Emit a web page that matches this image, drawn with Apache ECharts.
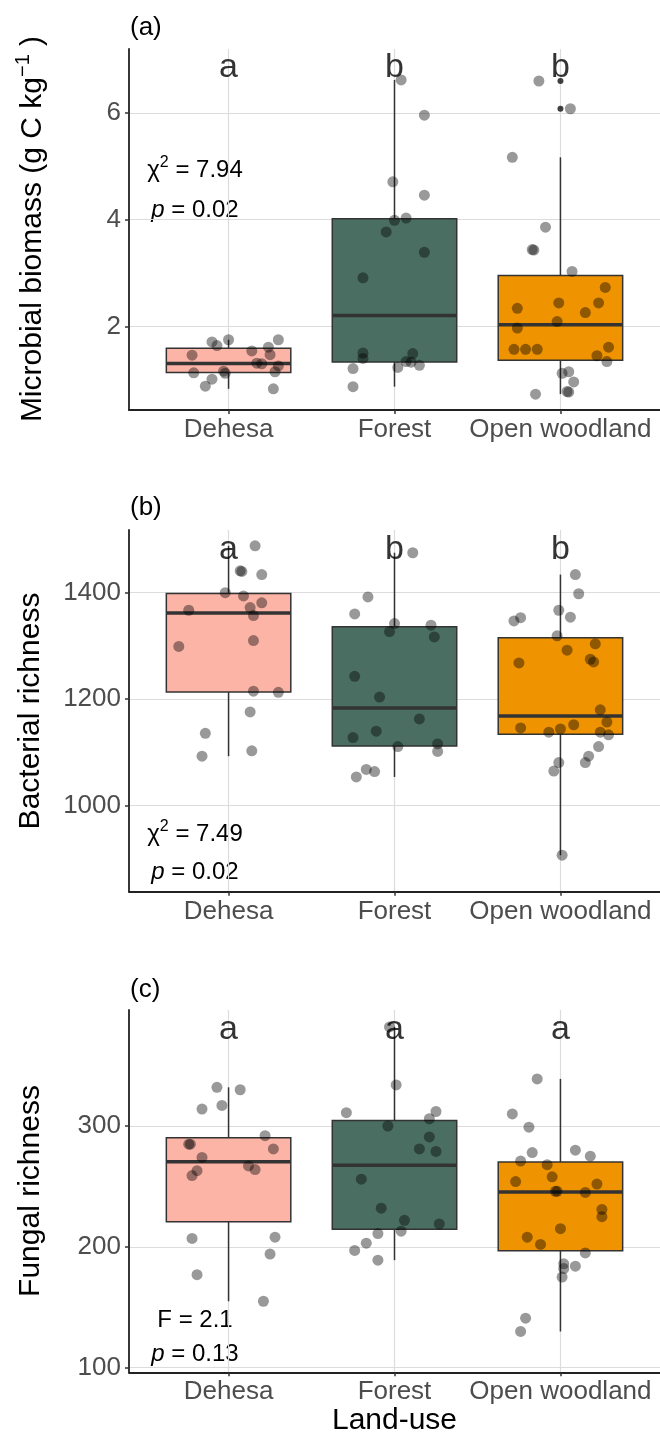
<!DOCTYPE html>
<html><head><meta charset="utf-8">
<script src="https://cdn.jsdelivr.net/npm/echarts@6/dist/echarts.min.js"></script>
<style>html,body{margin:0;padding:0;background:#fff}#c{width:660px;height:1435px}</style>
</head><body><div id="c"></div>
<script>
const categories = ['Dehesa', 'Forest', 'Open woodland'];

// (a) Microbial biomass
const mbDehesa = [1.71,1.64,1.75,1.75,1.61,1.54,1.47,1.46,1.31,1.30,1.26,1.13,1.16,1.12,1.15,1.01,0.88,0.83];
const mbDehesaJit = [-0.10,-0.07,0.00,0.30,0.24,0.14,0.25,-0.22,0.17,0.20,0.30,-0.21,-0.03,-0.02,0.28,-0.10,-0.14,0.27];
const mbForest = [6.62,5.96,4.71,4.46,3.99,4.03,3.77,3.39,2.91,1.50,1.40,1.49,1.34,1.33,1.27,1.23,1.21,0.87];
const mbForestJit = [0.04,0.18,-0.01,0.18,0.00,0.07,-0.05,0.18,-0.19,-0.19,-0.19,0.11,0.07,0.10,0.15,0.02,-0.25,-0.25];
const mbOpen = [6.60,6.08,5.17,3.86,3.44,3.43,3.03,2.73,2.44,2.44,2.34,2.26,2.09,1.97,1.61,1.57,1.57,1.57,1.45,1.34,1.15,1.12,0.96,0.78,0.77,0.73];
const mbOpenJit = [-0.13,0.06,-0.29,-0.09,-0.17,-0.16,0.07,0.27,-0.01,0.23,-0.26,0.15,-0.02,-0.26,0.29,-0.28,-0.21,-0.14,0.22,0.28,0.05,0.01,0.08,0.04,0.05,-0.15];
const mbTicks = [2, 4, 6];
const mbLetters = ['a', 'b', 'b'];
const mbLetterY = 6.85;

// (b) Bacterial richness
const brDehesa = [1488,1441,1440,1434,1400,1394,1381,1372,1367,1357,1310,1299,1215,1213,1176,1136,1093,1103];
const brDehesaJit = [0.16,0.07,0.08,0.20,-0.02,0.09,0.20,0.13,-0.24,0.15,0.15,-0.30,0.15,0.30,0.13,-0.14,-0.16,0.14];
const brForest = [1475,1392,1360,1342,1327,1339,1317,1243,1204,1163,1140,1128,1111,1116,1102,1068,1064,1054];
const brForestJit = [0.11,-0.16,-0.24,0.00,-0.03,0.22,0.24,-0.24,-0.09,0.15,-0.11,-0.25,0.02,0.26,0.26,-0.17,-0.12,-0.23];
const brOpen = [1434,1398,1367,1354,1347,1353,1319,1304,1292,1275,1270,1268,1180,1157,1152,1146,1144,1138,1138,1133,1111,1093,1081,1081,1065,907];
const brOpenJit = [0.09,0.11,-0.01,0.06,-0.28,-0.24,-0.02,0.21,0.04,0.18,0.20,-0.25,0.24,0.28,0.08,-0.24,0.00,-0.07,0.24,0.29,0.23,0.17,0.15,-0.01,-0.04,0.01];
const brTicks = [1000, 1200, 1400];
const brLetters = ['a', 'b', 'b'];
const brLetterY = 1480;

// (c) Fungal richness
const frDehesa = [332,330,314,317,292,285,285,281,274,267,264,263,259,207,208,194,177,155];
const frDehesaJit = [-0.07,0.07,-0.16,-0.04,0.22,-0.24,-0.23,0.27,-0.16,0.12,0.16,-0.19,-0.22,-0.22,0.28,0.25,-0.19,0.21];
const frForest = [382,334,311,312,306,300,291,281,279,256,232,222,219,213,211,203,197,189];
const frForestJit = [-0.03,0.01,-0.29,0.25,0.21,-0.04,0.21,0.15,0.25,-0.20,-0.08,0.06,0.27,0.04,-0.10,-0.17,-0.24,-0.10];
const frOpen = [339,310,299,278,280,275,271,268,258,254,252,246,246,245,231,225,215,208,202,195,186,184,182,175,141,130];
const frOpenJit = [-0.14,-0.29,-0.19,-0.17,0.09,0.18,-0.24,-0.08,-0.05,-0.27,0.22,-0.03,-0.02,0.15,0.25,0.25,0.00,-0.20,-0.12,0.15,0.02,0.09,0.02,0.01,-0.21,-0.24];
const frTicks = [100, 200, 300];
const frLetters = ['a', 'a', 'a'];
const frLetterY = 379.5;

const FONT = '"Liberation Sans", Arial, Helvetica, sans-serif';
const fills = ['#FCB4A7', '#4A6E62', '#EF9300'];

function quantile(s, p) {
  const h = (s.length - 1) * p, lo = Math.floor(h);
  const hi = Math.min(lo + 1, s.length - 1);
  return s[lo] + (h - lo) * (s[hi] - s[lo]);
}
function boxStats(vals) {
  const s = [...vals].sort((a, b) => a - b);
  const q1 = quantile(s, 0.25), med = quantile(s, 0.5), q3 = quantile(s, 0.75);
  const iqr = q3 - q1, lo = q1 - 1.5 * iqr, hi = q3 + 1.5 * iqr;
  const inside = s.filter(v => v >= lo && v <= hi);
  return { min: inside[0], max: inside[inside.length - 1], q1, med, q3, out: s.filter(v => v < lo || v > hi) };
}

const panels = [
  { vals: [mbDehesa, mbForest, mbOpen], jit: [mbDehesaJit, mbForestJit, mbOpenJit], ticks: mbTicks, letters: mbLetters, letterY: mbLetterY,
    ymin: 0.433, ymax: 7.2, top: 49, height: 361 },
  { vals: [brDehesa, brForest, brOpen], jit: [brDehesaJit, brForestJit, brOpenJit], ticks: brTicks, letters: brLetters, letterY: brLetterY,
    ymin: 838.5, ymax: 1517.7, top: 530, height: 361.7 },
  { vals: [frDehesa, frForest, frOpen], jit: [frDehesaJit, frForestJit, frOpenJit], ticks: frTicks, letters: frLetters, letterY: frLetterY,
    ymin: 96.2, ymax: 396, top: 1010, height: 362.3 }
];

const grid = [], xAxis = [], yAxis = [], series = [];
panels.forEach((p, pi) => {
  grid.push({ left: 129, right: 0, top: p.top, height: p.height });
  xAxis.push({
    type: 'value', gridIndex: pi, min: 0.4, max: 3.6,
    axisLine: { show: true, onZero: false, lineStyle: { color: '#222', width: 1.8 } },
    axisTick: { show: true, length: 4, customValues: [1, 2, 3], lineStyle: { color: '#333', width: 1.5 } },
    axisLabel: { customValues: [1, 2, 3], formatter: v => categories[Math.round(v) - 1] || '',
      color: '#4D4D4D', fontSize: 26, fontFamily: FONT, margin: 7 },
    splitLine: { show: true, lineStyle: { color: '#DCDCDC', width: 1.2 } }
  });
  yAxis.push({
    type: 'value', gridIndex: pi, min: p.ymin, max: p.ymax,
    axisLine: { show: true, onZero: false, lineStyle: { color: '#222', width: 1.8 } },
    axisTick: { show: true, length: 4, customValues: p.ticks, lineStyle: { color: '#333', width: 1.5 } },
    axisLabel: { customValues: p.ticks, formatter: v => String(v), color: '#4D4D4D', fontSize: 26, fontFamily: FONT, margin: 8 },
    splitLine: { show: true, lineStyle: { color: '#DCDCDC', width: 1.2 } }
  });

  const stats = p.vals.map(boxStats);
  series.push({
    type: 'custom', xAxisIndex: pi, yAxisIndex: pi, z: 2,
    data: stats.map((s, i) => [i + 1, s.min, s.q1, s.med, s.q3, s.max, i]),
    encode: { x: 0, y: [1, 2, 3, 4, 5] },
    renderItem: (params, api) => {
      const x = api.value(0);
      const hw = api.size([0.75, 0])[0] / 2;
      const pMin = api.coord([x, api.value(1)]);
      const pQ1 = api.coord([x, api.value(2)]);
      const pMed = api.coord([x, api.value(3)]);
      const pQ3 = api.coord([x, api.value(4)]);
      const pMax = api.coord([x, api.value(5)]);
      const cx = pQ1[0];
      return { type: 'group', children: [
        { type: 'line', shape: { x1: cx, y1: pQ3[1], x2: cx, y2: pMax[1] }, style: { stroke: '#333', lineWidth: 1.5 } },
        { type: 'line', shape: { x1: cx, y1: pQ1[1], x2: cx, y2: pMin[1] }, style: { stroke: '#333', lineWidth: 1.5 } },
        { type: 'rect', shape: { x: cx - hw, y: pQ3[1], width: 2 * hw, height: pQ1[1] - pQ3[1] },
          style: { fill: fills[api.value(6)], stroke: '#333', lineWidth: 1.5 } },
        { type: 'line', shape: { x1: cx - hw, y1: pMed[1], x2: cx + hw, y2: pMed[1] }, style: { stroke: '#333', lineWidth: 3.5 } }
      ] };
    }
  });
  const outliers = [];
  stats.forEach((s, i) => s.out.forEach(v => outliers.push([i + 1, v])));
  series.push({
    type: 'scatter', xAxisIndex: pi, yAxisIndex: pi, z: 3, symbolSize: 6,
    itemStyle: { color: '#111' }, data: outliers
  });
  const pts = [];
  p.vals.forEach((arr, i) => arr.forEach((v, k) => pts.push([i + 1 + p.jit[i][k], v])));
  series.push({
    type: 'scatter', xAxisIndex: pi, yAxisIndex: pi, z: 4, symbolSize: 11,
    itemStyle: { color: 'rgba(0,0,0,0.5)' }, data: pts
  });
  series.push({
    type: 'scatter', xAxisIndex: pi, yAxisIndex: pi, z: 5, symbolSize: 1,
    itemStyle: { color: 'rgba(0,0,0,0)' },
    label: { show: true, position: 'inside', formatter: d => d.data[2], fontSize: 34, color: '#000',
      textBorderWidth: 0, fontFamily: FONT },
    data: p.letters.map((l, i) => [i + 1, p.letterY, l])
  });
});

function txt(x, y, text, size, extra) {
  return Object.assign({ type: 'text', x, y, silent: true,
    style: Object.assign({ text, fontSize: size, fontFamily: FONT, fill: '#000', align: 'center', verticalAlign: 'middle' }, extra || {}) });
}
const rich24 = {
  n: { fontSize: 24, fontFamily: FONT, fill: '#000', lineHeight: 30 },
  s: { fontSize: 16, fontFamily: FONT, fill: '#000', verticalAlign: 'top', lineHeight: 18 },
  i: { fontSize: 24, fontFamily: FONT, fill: '#000', fontStyle: 'italic', lineHeight: 30 }
};
function rtxt(x, y, text) {
  return { type: 'text', x, y, silent: true,
    style: { text, rich: rich24, align: 'center', verticalAlign: 'middle', fontSize: 24, fontFamily: FONT } };
}

const graphic = [
  txt(130, 28, '(a)', 26, { align: 'left' }),
  txt(130, 508, '(b)', 26, { align: 'left' }),
  txt(130, 990, '(c)', 26, { align: 'left' }),
  rtxt(195, 170, '{n|χ}{s|2}{n| = 7.94}'),
  rtxt(195, 210, '{i|p}{n| = 0.02}'),
  rtxt(195, 834, '{n|χ}{s|2}{n| = 7.49}'),
  rtxt(195, 872, '{i|p}{n| = 0.02}'),
  rtxt(195, 1320, '{n|F = 2.1}'),
  rtxt(195, 1354, '{i|p}{n| = 0.13}'),
  { type: 'text', x: 33, y: 229, rotation: Math.PI / 2, silent: true,
    style: { text: '{n|Microbial biomass (g C kg}{s|−1}{n| )}', align: 'center', verticalAlign: 'middle',
      rich: { n: { fontSize: 30, fontFamily: FONT, fill: '#000', lineHeight: 40 },
              s: { fontSize: 20, fontFamily: FONT, fill: '#000', verticalAlign: 'top', lineHeight: 22 } } } },
  txt(31, 711, 'Bacterial richness', 30, { }),
  txt(31, 1191, 'Fungal richness', 30, { }),
  txt(394.5, 1421, 'Land-use', 30)
];
graphic[10].rotation = Math.PI / 2;
graphic[11].rotation = Math.PI / 2;

const chart = echarts.init(document.getElementById('c'), null, { renderer: 'canvas' });
chart.setOption({ animation: false, backgroundColor: '#fff', grid, xAxis, yAxis, series, graphic });
</script></body></html>
